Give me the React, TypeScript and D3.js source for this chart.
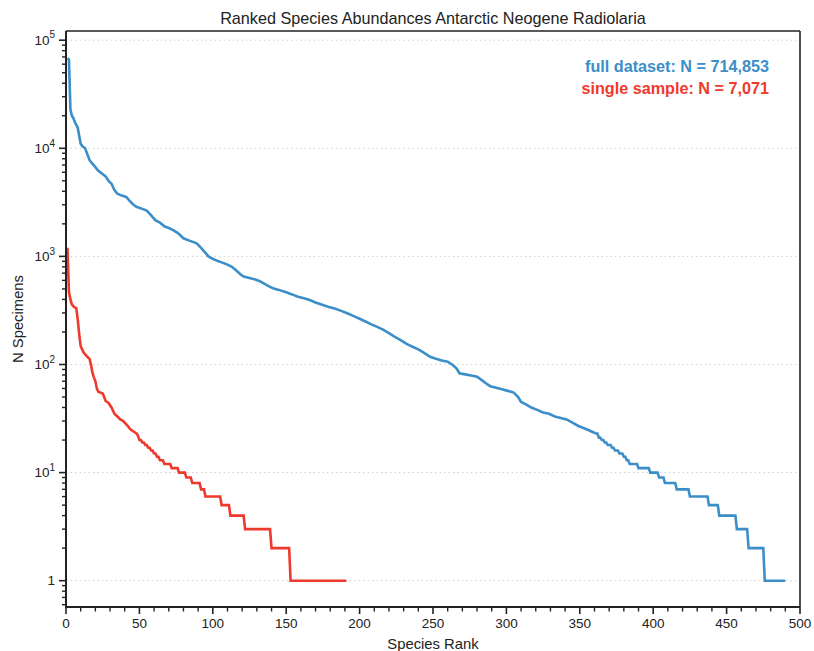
import React from 'react';
import * as d3 from 'd3';

const W = 814;
const H = 651;
const M = { left: 66, right: 14, top: 31, bottom: 44 };

const titleText = 'Ranked Species Abundances Antarctic Neogene Radiolaria';
const xLabel = 'Species Rank';
const yLabel = 'N Specimens';
const legendLabels = ['full dataset: N = 714,853', 'single sample: N = 7,071'];
const seriesColors = ['#3b8ec8', '#ee3a2c'];

const xTicks = [0, 50, 100, 150, 200, 250, 300, 350, 400, 450, 500];
const yMajor = [1, 10, 100, 1000, 10000, 100000];
const yExponents = ['', '1', '2', '3', '4', '5'];

// full dataset: rank / count (flat runs given by their first and last rank)
const blueRank = [1, 2, 3, 4, 5, 6, 7, 8, 9, 10, 11, 13, 15, 16, 18, 20, 22, 24, 27, 29, 31, 33, 35, 38, 41, 44, 46, 48, 52, 55, 58, 61, 64, 67, 70, 73, 76, 78, 80, 84, 89, 92, 95, 97, 100, 103, 106, 110, 113, 116, 119, 121, 125, 129, 132, 135, 138, 141, 145, 150, 154, 158, 162, 166, 170, 175, 179, 183, 187, 192, 196, 200, 204, 208, 212, 216, 220, 224, 228, 232, 236, 240, 244, 248, 252, 256, 260, 263, 266, 268, 272, 276, 280, 283, 286, 289, 293, 297, 301, 305, 308, 310, 313, 317, 321, 325, 329, 333, 337, 341, 345, 349, 352, 355, 358, 361, 362, 363, 364, 365, 366, 367, 368, 369, 371, 372, 373, 374, 376, 377, 379, 380, 381, 382, 383, 384, 389, 390, 397, 398, 403, 404, 407, 408, 415, 416, 424, 425, 437, 438, 444, 445, 456, 457, 464, 465, 475, 476, 490];
const blueCount = [68000, 66000, 23000, 20000, 19000, 17500, 16500, 15500, 13000, 11000, 10500, 10000, 8500, 7800, 7200, 6700, 6200, 5900, 5500, 5000, 4700, 4100, 3800, 3650, 3550, 3200, 3000, 2880, 2750, 2650, 2400, 2150, 2050, 1900, 1830, 1750, 1650, 1560, 1470, 1400, 1320, 1200, 1080, 1000, 950, 910, 880, 840, 800, 740, 680, 650, 630, 610, 590, 560, 530, 507, 490, 465, 445, 424, 410, 395, 375, 355, 340, 330, 315, 296, 280, 265, 250, 235, 223, 210, 195, 180, 168, 155, 146, 138, 128, 118, 113, 109, 106, 100, 92, 83, 81, 79, 77, 72, 67, 63, 61, 59, 57, 55, 50, 45, 43, 40, 38, 36, 35, 33, 32, 31, 29, 27, 26, 25, 24, 23, 23, 21, 21, 20, 20, 19, 19, 18, 18, 17, 17, 16, 16, 15, 15, 14, 14, 13, 13, 12, 12, 11, 11, 10, 10, 9, 9, 8, 8, 7, 7, 6, 6, 5, 5, 4, 4, 3, 3, 2, 2, 1, 1];

// single sample: rank / count
const redRank = [1, 2, 3, 4, 5, 6, 7, 8, 9, 10, 11, 12, 14, 15, 16, 17, 18, 19, 20, 21, 22, 25, 26, 27, 29, 31, 33, 35, 37, 39, 42, 44, 46, 48, 49, 50, 51, 52, 53, 54, 55, 56, 57, 58, 59, 60, 61, 62, 63, 64, 66, 67, 71, 72, 76, 77, 81, 82, 85, 86, 91, 92, 94, 95, 105, 106, 111, 112, 121, 122, 139, 140, 152, 153, 191];
const redCount = [1200, 470, 400, 360, 345, 338, 332, 260, 190, 148, 138, 129, 120, 116, 113, 100, 84, 76, 70, 60, 56, 54, 50, 46, 44, 40, 35, 33, 31, 30, 27, 25, 24, 23, 22, 20, 20, 19, 19, 18, 18, 17, 17, 16, 16, 15, 15, 14, 14, 13, 13, 12, 12, 11, 11, 10, 10, 9, 9, 8, 8, 7, 7, 6, 6, 5, 5, 4, 4, 3, 3, 2, 2, 1, 1];

const FONT = '"Liberation Sans", Arial, Helvetica, sans-serif';

export default function App() {
  const x = d3.scaleLinear().domain([0, 500]).range([M.left, W - M.right]);
  const y = d3.scaleLog().domain([0.571, 121600]).range([H - M.bottom, M.top]);

  const line = d3
    .line<[number, number]>()
    .x((d) => x(d[0]))
    .y((d) => y(d[1]))
    .curve(d3.curveLinear);

  const blue: [number, number][] = blueRank.map((r, i) => [r, blueCount[i]]);
  const red: [number, number][] = redRank.map((r, i) => [r, redCount[i]]);

  const [y0, y1] = y.domain();
  const yMinor: number[] = [];
  for (let d = 0.1; d <= 1e5; d *= 10) {
    for (let k = 2; k <= 9; k++) {
      const v = k * d;
      if (v >= y0 && v <= y1) yMinor.push(v);
    }
  }
  const xMinor = d3.range(0, 501, 10).filter((v) => v % 50 !== 0);

  const left = M.left;
  const right = W - M.right;
  const top = M.top;
  const bottom = H - M.bottom;
  const axisColor = '#222';

  return (
    <svg
      width={W}
      height={H}
      style={{ position: 'absolute', left: 0, top: 0, background: '#fff' }}
      fontFamily={FONT}
    >
      <rect x={0} y={0} width={W} height={H} fill="#fff" />
      {yMajor.map((v) => (
        <line
          key={'g' + v}
          x1={left}
          x2={right}
          y1={y(v)}
          y2={y(v)}
          stroke="#cfcfcf"
          strokeWidth={1}
          strokeDasharray="1.5,3"
        />
      ))}

      <path d={line(blue) || ''} fill="none" stroke={seriesColors[0]} strokeWidth={2.6} />
      <path d={line(red) || ''} fill="none" stroke={seriesColors[1]} strokeWidth={2.6} />

      <line x1={left} x2={right} y1={top} y2={top} stroke={axisColor} strokeWidth={1.6} />
      <line x1={right} x2={right} y1={top} y2={bottom} stroke={axisColor} strokeWidth={1.6} />
      <line x1={left} x2={left} y1={top} y2={bottom + 1} stroke={axisColor} strokeWidth={2} />
      <line x1={left - 1} x2={right} y1={bottom} y2={bottom} stroke={axisColor} strokeWidth={2} />

      {yMajor.map((v, i) => (
        <g key={'yt' + v}>
          <line x1={left - 7} x2={left} y1={y(v)} y2={y(v)} stroke={axisColor} strokeWidth={1.6} />
          <text x={left - 11} y={y(v) + 4.8} textAnchor="end" fontSize={13.5} fill="#222">
            {i === 0 ? (
              '1'
            ) : (
              <>
                <tspan>10</tspan>
                <tspan dy={-6.5} fontSize={10}>
                  {yExponents[i]}
                </tspan>
              </>
            )}
          </text>
        </g>
      ))}
      {yMinor.map((v, i) => (
        <line key={'ym' + i} x1={left - 4} x2={left} y1={y(v)} y2={y(v)} stroke={axisColor} strokeWidth={1.4} />
      ))}

      {xTicks.map((v) => (
        <g key={'xt' + v}>
          <line x1={x(v)} x2={x(v)} y1={bottom} y2={bottom + 7} stroke={axisColor} strokeWidth={1.6} />
          <text x={x(v)} y={bottom + 21} textAnchor="middle" fontSize={13.5} fill="#222">
            {v}
          </text>
        </g>
      ))}
      {xMinor.map((v) => (
        <line key={'xm' + v} x1={x(v)} x2={x(v)} y1={bottom} y2={bottom + 4.5} stroke={axisColor} strokeWidth={1.4} />
      ))}

      <text x={(left + right) / 2} y={23.5} textAnchor="middle" fontSize={16.2} fill="#222">
        {titleText}
      </text>
      <text x={(left + right) / 2} y={649} textAnchor="middle" fontSize={14.8} fill="#222">
        {xLabel}
      </text>
      <text
        transform={`translate(23, ${(top + bottom) / 2}) rotate(-90)`}
        textAnchor="middle"
        fontSize={14.8}
        fill="#222"
      >
        {yLabel}
      </text>

      {legendLabels.map((t, i) => (
        <text
          key={t}
          x={769}
          y={72 + i * 22}
          textAnchor="end"
          fontSize={16.2}
          fontWeight="bold"
          fill={seriesColors[i]}
        >
          {t}
        </text>
      ))}
    </svg>
  );
}
